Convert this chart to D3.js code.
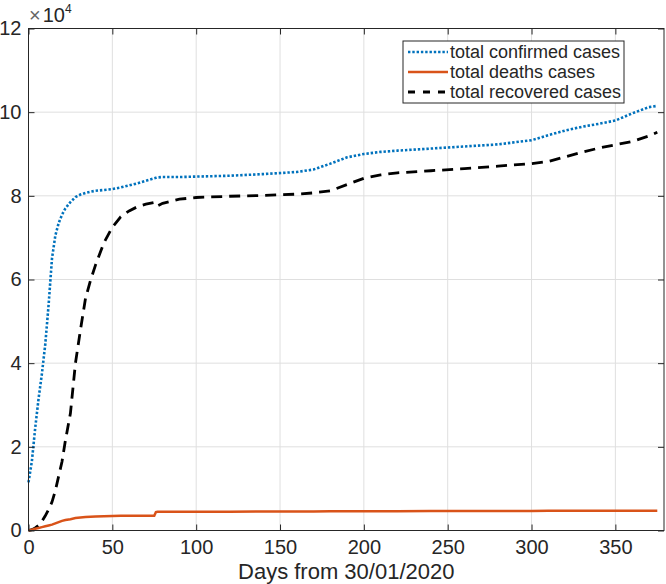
<!DOCTYPE html>
<html>
<head>
<meta charset="utf-8">
<script src="https://cdn.jsdelivr.net/npm/d3@7"></script>
<style>
  body { margin: 0; background: #fff; }
  svg text { font-family: "Liberation Sans", Arial, Helvetica, sans-serif; fill: #262626; }
</style>
</head>
<body>
<div id="chart"></div>
<script>
const days = [0, 2, 4, 6, 8, 10, 12, 14, 16, 18, 20, 22, 25, 28, 31, 34, 37, 40, 45, 50,
  55, 60, 65, 70, 75, 76, 77, 80, 90, 100, 120, 140, 160, 170, 180, 190, 200, 210, 220,
  240, 260, 280, 300, 310, 320, 330, 340, 350, 360, 370, 375];

// values in units of 10^4
const confirmed = [1.15, 1.65, 2.45, 3.15, 3.75, 4.45, 5.4, 6.5, 7.05, 7.35, 7.55, 7.7, 7.85, 7.97,
  8.03, 8.07, 8.1, 8.12, 8.14, 8.16, 8.2, 8.25, 8.3, 8.36, 8.42, 8.43, 8.44, 8.45, 8.45, 8.46,
  8.48, 8.52, 8.57, 8.63, 8.77, 8.92, 9.0, 9.05, 9.08, 9.13, 9.18, 9.23, 9.33, 9.45, 9.56,
  9.65, 9.72, 9.8, 9.97, 10.12, 10.15];

const deaths = [0, 0.02, 0.04, 0.06, 0.08, 0.1, 0.12, 0.14, 0.17, 0.2, 0.23, 0.25, 0.27, 0.3,
  0.31, 0.32, 0.33, 0.335, 0.34, 0.345, 0.35, 0.35, 0.35, 0.35, 0.35, 0.44, 0.45, 0.45, 0.45,
  0.45, 0.45, 0.455, 0.455, 0.455, 0.46, 0.46, 0.46, 0.46, 0.46, 0.465, 0.465, 0.465, 0.465,
  0.47, 0.47, 0.47, 0.47, 0.47, 0.47, 0.47, 0.47];

const recovered = [0, 0.02, 0.06, 0.12, 0.22, 0.35, 0.5, 0.68, 0.95, 1.3, 1.65, 2.15, 2.8, 4.0,
  4.8, 5.55, 5.98, 6.35, 6.88, 7.25, 7.5, 7.64, 7.74, 7.8, 7.84, 7.76, 7.76, 7.82, 7.92, 7.96,
  7.99, 8.01, 8.04, 8.07, 8.12, 8.27, 8.42, 8.5, 8.55, 8.6, 8.65, 8.71, 8.77, 8.82, 8.93, 9.04,
  9.14, 9.22, 9.3, 9.43, 9.52];

const xTicks = [0, 50, 100, 150, 200, 250, 300, 350];
const yTicks = [0, 2, 4, 6, 8, 10, 12];

const seriesNames = ["total confirmed cases", "total deaths cases", "total recovered cases"];

function drawChart() {
    const width = 666;
    const height = 584;
    const plot = { left: 28.5, right: 664, top: 28.5, bottom: 530.5 };
    const tickLen = 6;

    const svg = d3.select("#chart")
        .append("svg")
        .attr("width", width)
        .attr("height", height);

    const x = d3.scaleLinear().domain([0, 379]).range([plot.left, plot.right]);
    const y = d3.scaleLinear().domain([0, 12]).range([plot.bottom, plot.top]);

    // grid
    const grid = svg.append("g").attr("stroke", "#dfdfdf").attr("stroke-width", 1);
    grid.selectAll(".gx").data(xTicks.filter(d => d > 0)).enter().append("line")
        .attr("x1", d => x(d)).attr("x2", d => x(d))
        .attr("y1", plot.top).attr("y2", plot.bottom);
    grid.selectAll(".gy").data(yTicks.filter(d => d > 0 && d < 12)).enter().append("line")
        .attr("x1", plot.left).attr("x2", plot.right)
        .attr("y1", d => y(d)).attr("y2", d => y(d));

    // series
    const line = d3.line().x((d, i) => x(days[i])).y(d => y(d));

    svg.append("path").datum(confirmed)
        .attr("fill", "none").attr("stroke", "#0072BD").attr("stroke-width", 2.6)
        .attr("stroke-dasharray", "2.4,1.9").attr("d", line);

    svg.append("path").datum(recovered)
        .attr("fill", "none").attr("stroke", "#000").attr("stroke-width", 2.8)
        .attr("stroke-dasharray", "11,7").attr("d", line);

    svg.append("path").datum(deaths)
        .attr("fill", "none").attr("stroke", "#D95319").attr("stroke-width", 2.5)
        .attr("d", line);

    // axes (ticks pointing inward)
    const axisColor = "#262626";
    const xAxis = svg.append("g")
        .attr("transform", `translate(0,${plot.bottom})`)
        .call(d3.axisBottom(x).tickValues(xTicks).tickSize(-tickLen).tickPadding(9));
    xAxis.selectAll("text").style("font-size", "20px");

    svg.append("g")
        .attr("transform", `translate(0,${plot.top})`)
        .call(d3.axisTop(x).tickValues(xTicks).tickSize(-tickLen).tickFormat(""));

    const yAxis = svg.append("g")
        .attr("transform", `translate(${plot.left},0)`)
        .call(d3.axisLeft(y).tickValues(yTicks).tickSize(-tickLen).tickPadding(7));
    yAxis.selectAll("text").style("font-size", "20px");

    svg.append("g")
        .attr("transform", `translate(${plot.right},0)`)
        .call(d3.axisRight(y).tickValues(yTicks).tickSize(-tickLen).tickFormat(""));

    svg.selectAll(".domain").remove();
    svg.selectAll(".tick line").attr("stroke", axisColor);

    svg.append("rect")
        .attr("x", plot.left).attr("y", plot.top)
        .attr("width", plot.right - plot.left).attr("height", plot.bottom - plot.top)
        .attr("fill", "none").attr("stroke", axisColor).attr("stroke-width", 1);

    // exponent label
    const expo = svg.append("text").attr("x", 29).attr("y", 22).style("font-size", "20px");
    expo.append("tspan").text("\u00d7").style("font-size", "20px").attr("fill", "#666");
    expo.append("tspan").text("10").attr("dx", 2);
    expo.append("tspan").text("4").attr("dy", -9).style("font-size", "12px");

    // x label
    svg.append("text")
        .attr("x", (plot.left + plot.right) / 2)
        .attr("y", 579)
        .attr("text-anchor", "middle")
        .style("font-size", "22px")
        .text("Days from 30/01/2020");

    // legend
    const legend = svg.append("g");
    legend.append("rect")
        .attr("x", 403).attr("y", 41).attr("width", 221).attr("height", 62)
        .attr("fill", "#fff").attr("stroke", axisColor).attr("stroke-width", 1);

    const styles = [
        { color: "#0072BD", dash: "2.4,1.9", w: 2.6 },
        { color: "#D95319", dash: null, w: 2.5 },
        { color: "#000", dash: "7,8", w: 2.8 }
    ];

    seriesNames.forEach((name, i) => {
        const cy = 52 + i * 20;
        legend.append("line")
            .attr("x1", 408).attr("x2", 448).attr("y1", cy).attr("y2", cy)
            .attr("stroke", styles[i].color).attr("stroke-width", styles[i].w)
            .attr("stroke-dasharray", styles[i].dash);
        legend.append("text")
            .attr("x", 450).attr("y", cy).attr("dy", "0.35em")
            .style("font-size", "18px")
            .text(name);
    });
}

document.addEventListener("DOMContentLoaded", drawChart);
</script>
</body>
</html>
